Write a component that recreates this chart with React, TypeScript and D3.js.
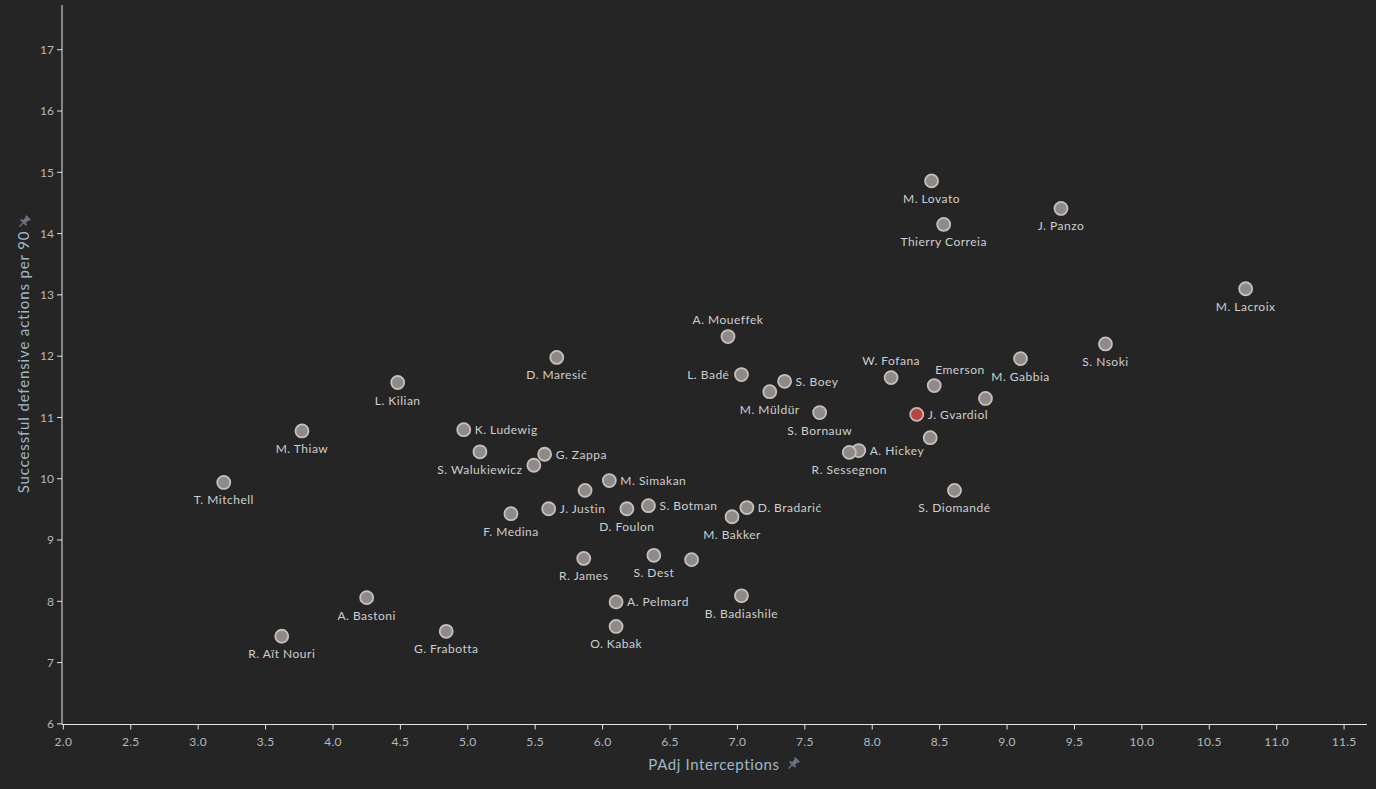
import React from 'react';
import { scaleLinear, range } from 'd3';

// Players: PAdj interceptions vs successful defensive actions per 90
const names = [
  'M. Lovato', 'Thierry Correia', 'J. Panzo', 'M. Lacroix', 'S. Nsoki', 'M. Gabbia',
  'A. Moueffek', 'D. Maresić', 'L. Kilian', 'L. Badé', 'S. Boey', 'M. Müldür',
  'W. Fofana', 'Emerson', '', 'J. Gvardiol', 'S. Bornauw', '', 'A. Hickey',
  'R. Sessegnon', 'M. Thiaw', 'K. Ludewig', 'S. Walukiewicz', 'G. Zappa', '',
  'M. Simakan', '', 'J. Justin', 'F. Medina', 'D. Foulon', 'S. Botman', 'M. Bakker',
  'D. Bradarić', 'S. Diomandé', 'T. Mitchell', 'R. James', 'S. Dest', '',
  'A. Bastoni', 'A. Pelmard', 'B. Badiashile', 'O. Kabak', 'G. Frabotta', 'R. Aït Nouri',
];
const interceptions = [
  8.44, 8.53, 9.40, 10.77, 9.73, 9.10,
  6.93, 5.66, 4.48, 7.03, 7.35, 7.24,
  8.14, 8.46, 8.84, 8.33, 7.61, 8.43, 7.90,
  7.83, 3.77, 4.97, 5.09, 5.57, 5.49,
  6.05, 5.87, 5.60, 5.32, 6.18, 6.34, 6.96,
  7.07, 8.61, 3.19, 5.86, 6.38, 6.66,
  4.25, 6.10, 7.03, 6.10, 4.84, 3.62,
];
const defActions = [
  14.86, 14.15, 14.41, 13.10, 12.20, 11.96,
  12.32, 11.98, 11.57, 11.70, 11.59, 11.42,
  11.65, 11.52, 11.31, 11.05, 11.08, 10.67, 10.46,
  10.43, 10.78, 10.80, 10.44, 10.40, 10.22,
  9.97, 9.81, 9.51, 9.43, 9.51, 9.56, 9.38,
  9.53, 9.81, 9.94, 8.70, 8.75, 8.68,
  8.06, 7.99, 8.09, 7.59, 7.51, 7.43,
];
const highlighted = 'J. Gvardiol';

const xTicks = range(2, 11.51, 0.5);
const yTicks = range(6, 17.01, 1);

// where each label sits relative to its dot (default: below)
const labelSide: Record<string, 'r' | 'l' | 't' | 'tr'> = {
  'A. Moueffek': 't', 'L. Badé': 'l', 'S. Boey': 'r', 'W. Fofana': 't', 'Emerson': 'tr',
  'J. Gvardiol': 'r', 'A. Hickey': 'r', 'K. Ludewig': 'r', 'G. Zappa': 'r',
  'M. Simakan': 'r', 'J. Justin': 'r', 'S. Botman': 'r', 'D. Bradarić': 'r', 'A. Pelmard': 'r',
};

const W = 1376;
const H = 789;
const FONT = 'Lato, "Open Sans", sans-serif';

// little push-pin, drawn pointing down then tilted so the needle goes bottom-left
const Pin: React.FC<{ x: number; y: number }> = ({ x, y }) => (
  <g transform={`translate(${x},${y}) rotate(45)`} fill="#6c7480">
    <rect x={-3.2} y={-6.5} width={6.4} height={2} rx={0.6} />
    <rect x={-2} y={-4.8} width={4} height={4.5} />
    <path d="M-4.5,-0.5 L4.5,-0.5 L3.5,1.5 L-3.5,1.5 Z" />
    <rect x={-0.6} y={1.4} width={1.2} height={5} />
  </g>
);

export default function App() {
  const x = scaleLinear().domain([1.99, 11.67]).range([62, 1367]);
  const y = scaleLinear().domain([5.99, 17.73]).range([724.5, 5]);

  const x0 = x.range()[0];
  const y0 = y.range()[0];

  return (
    <svg
      width={W}
      height={H}
      style={{ position: 'absolute', left: 0, top: 0, background: '#252525', fontFamily: FONT }}
    >
      <rect width={W} height={H} fill="#252525" />

      {/* axes */}
      <line x1={x0} x2={x0} y1={y.range()[1]} y2={y0} stroke="#e6e6e6" strokeWidth={1} />
      <line x1={x0} x2={x.range()[1]} y1={y0} y2={y0} stroke="#e6e6e6" strokeWidth={1} />

      {xTicks.map((t) => (
        <g key={`x${t}`} transform={`translate(${x(t)},${y0})`}>
          <line y2={5} stroke="#e6e6e6" />
          <text y={21} textAnchor="middle" fontSize={12} letterSpacing={0.3} fill="#b4b9be">
            {t.toFixed(1)}
          </text>
        </g>
      ))}
      {yTicks.map((t) => (
        <g key={`y${t}`} transform={`translate(${x0},${y(t)})`}>
          <line x2={-5} stroke="#e6e6e6" />
          <text x={-8} dy="0.35em" textAnchor="end" fontSize={12} fill="#b4b9be">
            {t}
          </text>
        </g>
      ))}

      {/* axis titles */}
      <text x={714} y={770} textAnchor="middle" fontSize={15} letterSpacing={0.6} fill="#9fb8c6">
        PAdj Interceptions
      </text>
      <Pin x={793} y={764} />
      <text
        transform="translate(29,362) rotate(-90)"
        textAnchor="middle"
        fontSize={15}
        letterSpacing={0.85}
        fill="#9fb8c6"
      >
        Successful defensive actions per 90
      </text>
      <Pin x={24} y={222} />

      {/* dots */}
      {names.map((n, i) => {
        const hot = n === highlighted;
        return (
          <circle
            key={`c${i}`}
            cx={x(interceptions[i])}
            cy={y(defActions[i])}
            r={6.5}
            fill={hot ? '#b54545' : '#8f8a88'}
            stroke={hot ? '#d9b0b0' : '#c4c0bd'}
            strokeWidth={1.8}
          />
        );
      })}

      {/* labels */}
      {names.map((n, i) => {
        if (!n) return null;
        const cx = x(interceptions[i]);
        const cy = y(defActions[i]);
        const side = labelSide[n];
        let tx = cx;
        let ty = cy + 22;
        let anchor: 'start' | 'middle' | 'end' = 'middle';
        if (side === 'r') { tx = cx + 11; ty = cy + 4.5; anchor = 'start'; }
        else if (side === 'l') { tx = cx - 12; ty = cy + 4.5; anchor = 'end'; }
        else if (side === 't') { ty = cy - 13; }
        else if (side === 'tr') { tx = cx + 1; ty = cy - 12; anchor = 'start'; }
        return (
          <text
            key={`t${i}`}
            x={tx}
            y={ty}
            textAnchor={anchor}
            fontSize={12}
            letterSpacing={0.5}
            fill="#cfcfcf"
          >
            {n}
          </text>
        );
      })}
    </svg>
  );
}
